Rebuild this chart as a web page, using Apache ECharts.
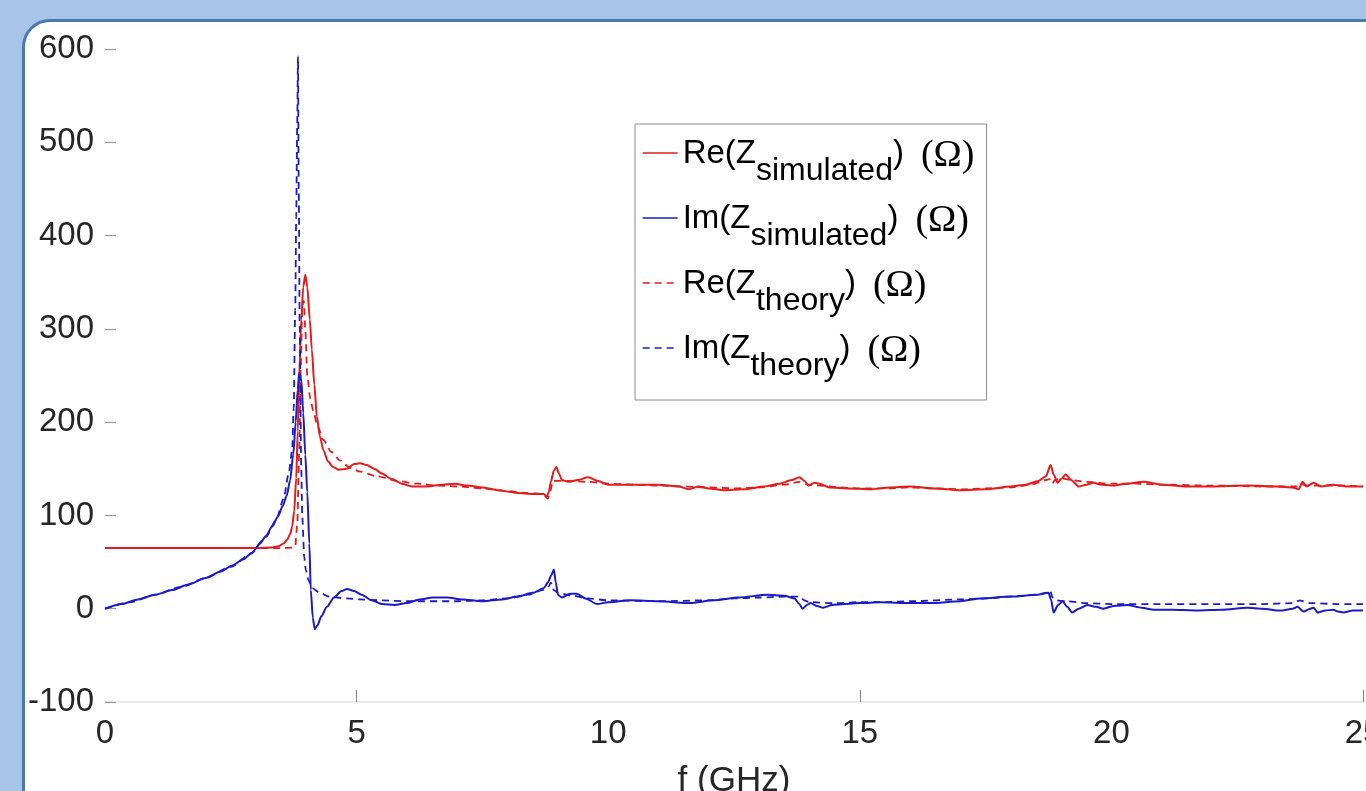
<!DOCTYPE html>
<html>
<head>
<meta charset="utf-8">
<script src="https://cdn.jsdelivr.net/npm/echarts@6/dist/echarts.min.js"></script>
<style>
  html, body { margin: 0; padding: 0; width: 1366px; height: 791px; overflow: hidden; background: #a8c5e8; }
  #panel { position: absolute; left: 22px; top: 19px; width: 1420px; height: 820px; background: #ffffff;
           border: 3px solid #4a78ad; border-radius: 28px; box-sizing: border-box; }
  #chart { position: absolute; left: 0; top: 0; width: 1366px; height: 791px; }
</style>
</head>
<body>
<div id="panel"></div>
<div id="chart"></div>
<script>
// ---- data (f in GHz, value in ohms) ----
const seriesNames = ['Re(Z_simulated) (Ω)', 'Im(Z_simulated) (Ω)', 'Re(Z_theory) (Ω)', 'Im(Z_theory) (Ω)'];
const xTicks = [0, 5, 10, 15, 20, 25];
const yTicks = [-100, 0, 100, 200, 300, 400, 500, 600];

const reSim = [[0,65],[1,65],[2,65],[3,65],[3.3,65.5],[3.45,67],[3.55,70],[3.62,74],[3.68,80],[3.72,88],[3.76,105],[3.8,140],[3.83,190],[3.86,250],[3.9,310],[3.94,345],[3.98,358],[4.02,345],[4.07,310],[4.11,278],[4.16,240],[4.21,206],[4.27,185],[4.34,170],[4.43,158],[4.53,152],[4.65,149],[4.8,150],[4.95,155],[5.07,156],[5.2,154],[5.35,150],[5.5,145],[5.7,139],[5.9,134],[6.1,131],[6.4,131],[6.7,133],[6.95,134],[7.2,132],[7.5,130],[7.8,127],[8.2,124],[8.5,123],[8.72,123],[8.78,120],[8.82,125],[8.86,136],[8.92,148],[8.97,152],[9.02,145],[9.08,138],[9.2,136],[9.4,138],[9.6,141],[9.8,137],[10.0,133],[10.5,133],[11.0,133],[11.4,131],[11.6,128],[11.8,131],[12.0,129],[12.3,127],[12.7,128],[13.1,131],[13.4,134],[13.65,138],[13.8,141],[13.9,137],[13.98,132],[14.1,135],[14.2,134],[14.4,130],[14.8,129],[15.2,128],[15.6,130],[16.0,131],[16.5,129],[17.0,127],[17.5,128],[18.0,131],[18.3,133],[18.55,137],[18.7,142],[18.79,154],[18.86,143],[18.93,135],[19.0,139],[19.09,144],[19.2,138],[19.35,131],[19.5,133],[19.64,135],[19.8,133],[20.0,132],[20.3,134],[20.64,136],[21.0,133],[21.5,131],[22.0,131],[22.7,132],[23.3,131],[23.6,130],[23.72,128],[23.8,136],[23.88,131],[24.02,135],[24.16,131],[24.4,133],[24.7,131],[25,131]];

const imSim = [[0,0],[0.33,5],[0.66,10],[1.0,15],[1.33,20],[1.66,26],[2.0,33],[2.3,40],[2.52,46],[2.75,53],[2.92,60],[3.08,70],[3.2,78],[3.32,88],[3.44,99],[3.53,110],[3.61,121],[3.68,138],[3.74,165],[3.79,200],[3.83,235],[3.86,253],[3.9,246],[3.94,210],[3.98,165],[4.02,125],[4.06,70],[4.09,20],[4.13,-10],[4.17,-22],[4.22,-18],[4.3,-8],[4.41,2],[4.55,12],[4.7,19],[4.81,21],[4.95,19],[5.1,15],[5.3,9],[5.5,5],[5.75,4],[6.0,6],[6.25,10],[6.52,12],[6.8,12],[7.1,10],[7.5,8],[7.9,10],[8.2,13],[8.5,17],[8.72,22],[8.8,28],[8.87,36],[8.92,42],[8.96,28],[9.0,15],[9.08,12],[9.24,16],[9.38,16],[9.55,11],[9.78,5],[10.0,7],[10.44,9],[11.0,8],[11.63,6],[12.09,9],[12.6,12],[13.16,15],[13.5,14],[13.7,11],[13.8,5],[13.86,0],[13.95,4],[14.02,6],[14.15,3],[14.27,1],[14.45,4],[14.7,5],[15.0,6],[15.41,7],[16.0,6],[16.4,6],[17.0,8],[17.4,11],[18.0,13],[18.53,15],[18.75,17],[18.8,10],[18.85,-4],[18.94,4],[19.03,8],[19.12,2],[19.22,-4],[19.35,0],[19.52,4],[19.7,2],[19.84,0],[20.05,3],[20.32,4],[20.6,1],[20.84,-1],[21.2,-1],[21.7,-2],[22.2,-1],[22.7,1],[23.0,0],[23.36,-2],[23.6,0],[23.7,2],[23.82,-3],[23.95,0],[24.02,1],[24.1,-4],[24.25,-2],[24.41,-1],[24.5,-3],[24.61,-4],[24.8,-2],[25,-2]];

const reTh = [[0,65],[1,65],[2,65],[3,65],[3.5,65],[3.74,65.5],[3.78,67],[3.82,90],[3.86,170],[3.89,260],[3.92,325],[3.95,330],[3.98,300],[4.02,250],[4.08,225],[4.14,212],[4.22,196],[4.34,181],[4.5,168],[4.67,159],[4.87,151],[5.07,147],[5.4,142],[5.8,137],[6.2,134],[6.6,132],[7.0,131],[7.5,129],[8.0,126],[8.4,124],[8.7,123],[8.8,118],[8.85,126],[8.9,137],[9.2,137],[9.6,136],[10,134],[11,132],[12,130],[12.5,129],[13,130],[13.5,133],[13.8,136],[13.95,133],[14.2,132],[14.6,130],[15,129],[15.5,129],[16,130],[16.5,129],[17,128],[17.5,129],[18,130],[18.4,133],[18.7,138],[18.77,139],[18.82,134],[18.88,138],[19.0,140],[19.2,138],[19.5,136],[20,134],[20.5,134],[21,133],[22,132],[23,131],[23.7,131],[23.8,133],[23.9,132],[24.5,132],[25,131]];

const imTh = [[0,0],[0.5,7],[1.0,15],[1.5,23],[2.0,33],[2.5,45],[2.9,59],[3.2,77],[3.4,95],[3.55,118],[3.65,145],[3.72,170],[3.75,215],[3.78,320],[3.8,420],[3.82,520],[3.835,592],[3.85,450],[3.87,300],[3.9,150],[3.92,99],[3.96,55],[3.99,42],[4.04,31],[4.12,22],[4.27,17],[4.45,13],[4.8,11],[5.07,10],[5.5,9],[6,8],[7,8],[7.5,9],[8,11],[8.4,15],[8.7,20],[8.82,24],[8.86,28],[8.92,20],[9.0,17],[9.3,14],[9.6,11],[10,9],[11,8],[12,9],[12.5,11],[13,12],[13.5,13],[13.8,13],[13.9,9],[14,7],[14.5,6],[15,7],[15.5,7],[16,8],[17,10],[17.5,11],[18,13],[18.5,15],[18.7,17],[18.78,20],[18.83,12],[18.9,9],[19.1,8],[19.5,6],[20,5],[21,5],[22,5],[23,5],[23.6,6],[23.75,9],[23.82,8],[23.95,6],[24.5,5],[25,5]];

// ---- chart ----
const RED = '#e51b1b', BLUE = '#1a1ac8';
const legendRich = {
  a: { fontFamily: 'Liberation Sans, Arial', fontSize: 33, color: '#000', lineHeight: 32, verticalAlign: 'top' },
  s: { fontFamily: 'Liberation Sans, Arial', fontSize: 32, color: '#000', lineHeight: 30, padding: [18, 0, 0, 0], verticalAlign: 'top' },
  o: { fontFamily: 'Liberation Serif, Times New Roman', fontSize: 38, color: '#000', lineHeight: 32, padding: [0, 0, 0, 17], verticalAlign: 'top' }
};
function legendLabel(name) {
  const m = name.match(/^(Re|Im)\(Z_(\w+)\) \(Ω\)$/);
  return '{a|' + m[1] + '(Z}{s|' + m[2] + '}{a|)}{o|(Ω)}';
}
function mk(name, data, color, dashed) {
  return {
    name: name, type: 'line', data: data, showSymbol: false, symbol: 'none',
    smooth: 0.25, smoothMonotone: 'x',
    lineStyle: { color: color, width: dashed ? 1.8 : 2, type: dashed ? [7, 5] : 'solid' },
    itemStyle: { color: color }, z: dashed ? 3 : 2
  };
}
const chart = echarts.init(document.getElementById('chart'), null, { renderer: 'canvas' });
chart.setOption({
  animation: false,
  backgroundColor: 'transparent',
  grid: { left: 105, right: 3, top: 49, bottom: 89, containLabel: false, outerBoundsMode: 'none' },
  xAxis: {
    type: 'value', min: xTicks[0], max: xTicks[xTicks.length - 1], interval: 5,
    name: 'f (GHz)', nameLocation: 'middle', nameGap: 62,
    nameTextStyle: { fontFamily: 'Liberation Sans, Arial', fontSize: 35, color: '#262626' },
    axisLine: { show: true, onZero: false, lineStyle: { color: '#e2e2e2', width: 1.5 } },
    axisTick: { show: true, inside: true, length: 12, customValues: [5, 15, 25], lineStyle: { color: '#8a8a8a', width: 1.2 } },
    axisLabel: { fontFamily: 'Liberation Sans, Arial', fontSize: 33, color: '#262626', margin: 15, hideOverlap: false },
    splitLine: { show: false }
  },
  yAxis: {
    type: 'value', min: yTicks[0], max: yTicks[yTicks.length - 1], interval: 100,
    axisLine: { show: false },
    axisTick: { show: true, inside: true, length: 11, lineStyle: { color: '#9a9a9a', width: 1.2 } },
    axisLabel: { fontFamily: 'Liberation Sans, Arial', fontSize: 33, color: '#262626', margin: 11 },
    splitLine: { show: false }
  },
  legend: {
    orient: 'vertical', left: 635, top: 124,
    data: seriesNames,
    itemWidth: 35, itemHeight: 14, itemGap: 15,
    padding: [13, 12, 18, 7],
    backgroundColor: '#ffffff', borderColor: '#8c8c8c', borderWidth: 1, borderRadius: 0,
    formatter: legendLabel,
    textStyle: { rich: legendRich },
    itemStyle: { opacity: 0 },
    lineStyle: { width: 1.3 },
    selectedMode: false
  },
  series: [
    mk(seriesNames[0], reSim, RED, false),
    mk(seriesNames[1], imSim, BLUE, false),
    mk(seriesNames[2], reTh, RED, true),
    mk(seriesNames[3], imTh, BLUE, true)
  ]
});
</script>
</body>
</html>
